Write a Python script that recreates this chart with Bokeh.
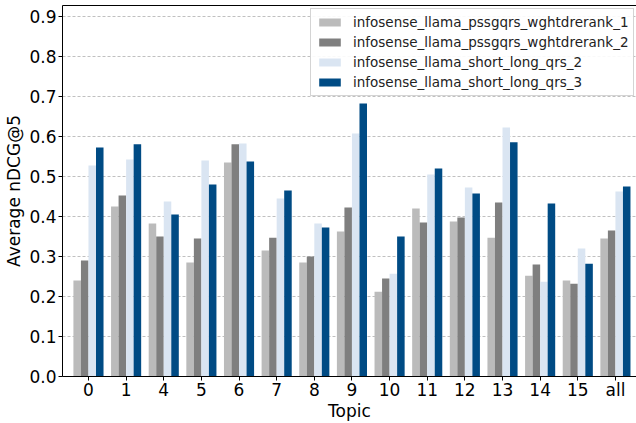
import numpy as np
from bokeh.plotting import figure
from bokeh.models import (ColumnDataSource, Range1d, FixedTicker, PrintfTickFormatter,
                          LinearAxis, Legend, LegendItem)
from bokeh.transform import dodge
from bokeh.embed import file_html
from bokeh.resources import INLINE

topics = ["0", "1", "4", "5", "6", "7", "8", "9", "10", "11", "12", "13", "14", "15", "all"]
series_names = ["infosense_llama_pssgqrs_wghtdrerank_1",
                "infosense_llama_pssgqrs_wghtdrerank_2",
                "infosense_llama_short_long_qrs_2",
                "infosense_llama_short_long_qrs_3"]
s1 = [0.240, 0.425, 0.382, 0.285, 0.535, 0.315, 0.285, 0.362, 0.212, 0.420, 0.387, 0.347, 0.252, 0.240, 0.345]
s2 = [0.290, 0.452, 0.350, 0.345, 0.580, 0.347, 0.300, 0.422, 0.245, 0.385, 0.397, 0.435, 0.280, 0.232, 0.365]
s3 = [0.527, 0.542, 0.437, 0.540, 0.582, 0.445, 0.382, 0.607, 0.257, 0.505, 0.472, 0.622, 0.237, 0.320, 0.462]
s4 = [0.572, 0.580, 0.405, 0.480, 0.537, 0.465, 0.372, 0.682, 0.350, 0.520, 0.457, 0.585, 0.432, 0.282, 0.475]
y_ticks = [0.0, 0.1, 0.2, 0.3, 0.4, 0.5, 0.6, 0.7, 0.8, 0.9]

colors = ["#bbbbbb", "#7f7f7f", "#dae5f2", "#004b84"]
offsets = [-0.3, -0.1, 0.1, 0.3]

src = ColumnDataSource(dict(x=list(range(len(topics))), s1=s1, s2=s2, s3=s3, s4=s4))

FONT = "DejaVu Sans"
p = figure(width=636, height=423, output_backend="svg", toolbar_location=None,
           x_range=Range1d(-0.69, 14.56), y_range=Range1d(0, 0.927),
           min_border_top=5, min_border_right=0, min_border_left=62, min_border_bottom=46)
p.outline_line_color = None

items = []
for i, col in enumerate(["s1", "s2", "s3", "s4"]):
    r = p.vbar(x=dodge("x", offsets[i]), top=col, width=0.2, source=src,
               fill_color=colors[i], line_color=None)
    items.append(LegendItem(label=series_names[i], renderers=[r]))

# axes
p.xaxis.ticker = FixedTicker(ticks=list(range(len(topics))))
p.xaxis.major_label_overrides = {i: t for i, t in enumerate(topics)}
p.yaxis.ticker = FixedTicker(ticks=y_ticks)
p.yaxis.formatter = PrintfTickFormatter(format="%.1f")
for ax in (p.xaxis[0], p.yaxis[0]):
    ax.major_label_text_font = FONT
    ax.major_label_text_font_size = "17px"
    ax.major_label_text_color = "black"
    ax.axis_label_text_font = FONT
    ax.axis_label_text_font_size = "17px"
    ax.axis_label_text_font_style = "normal"
    ax.axis_label_text_color = "black"
    ax.axis_line_color = "black"
    ax.major_tick_line_color = "black"
    ax.major_tick_out = 4
    ax.major_tick_in = 0
    ax.minor_tick_line_color = None
p.xaxis.major_label_standoff = -1
p.yaxis.major_label_standoff = 2
p.xaxis.axis_label = "Topic"
p.yaxis.axis_label = "Average nDCG@5"
p.xaxis.axis_label_standoff = -2
p.yaxis.axis_label_standoff = 2

top_axis = LinearAxis(ticker=FixedTicker(ticks=[]), major_label_text_font_size="0px",
                      major_tick_out=0, major_tick_in=0, minor_tick_out=0, minor_tick_in=0,
                      axis_line_color="black")
p.add_layout(top_axis, "above")

p.xgrid.grid_line_color = None
p.ygrid.grid_line_color = "#b0b0b0"
p.ygrid.grid_line_dash = "3 2"
p.ygrid.grid_line_width = 0.8

legend = Legend(items=items, location=(248, 280))
legend.label_text_font = FONT
legend.label_text_font_size = "13.5px"
legend.label_text_color = "#222222"
legend.glyph_width = 27
legend.glyph_height = 10
legend.label_height = 16
legend.spacing = 4
legend.label_standoff = 10
legend.padding = 5
legend.margin = 0
legend.border_line_color = "#aaaaaa"
legend.border_line_width = 1
legend.background_fill_alpha = 0.9
p.add_layout(legend)

open("out.html", "w").write(file_html(p, INLINE))
